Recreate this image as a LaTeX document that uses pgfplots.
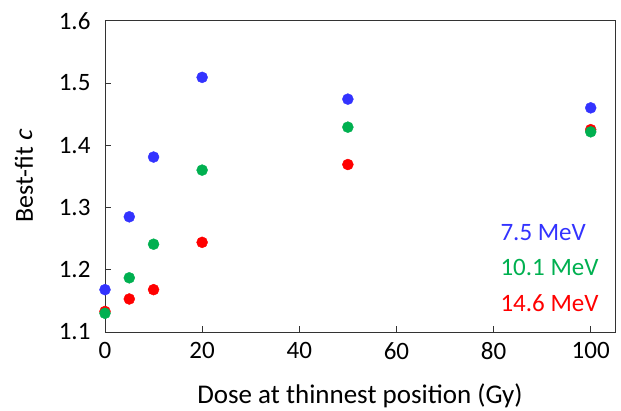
\documentclass[border=0pt]{standalone}
\usepackage{fontspec}
\setmainfont{Carlito}[AutoFakeSlant=0.2]
\usepackage{pgfplots}
\pgfplotsset{compat=1.18}
\definecolor{cblue}{RGB}{51,51,255}
\definecolor{cgreen}{RGB}{0,176,80}
\definecolor{cred}{RGB}{255,0,0}
\begin{document}
\fontsize{25bp}{30bp}\selectfont
\begin{tikzpicture}
\begin{axis}[
  name=ax,
  scale only axis,
  width=510bp, height=311.3bp,
  xmin=0, xmax=105, ymin=1.1, ymax=1.6,
  xtick={0,20,40,60,80,100},
  ytick={1.1,1.2,1.3,1.4,1.5,1.6},
  yticklabel style={/pgf/number format/fixed,/pgf/number format/precision=1,/pgf/number format/fixed zerofill},
  /pgf/number format/assume math mode=true,
  tick align=inside,
  xtick pos=bottom, ytick pos=left,
  major tick length=6bp,
  axis line style={line width=0.8bp, black!80},
  tick style={line width=0.8bp, black!80},
  xticklabel style={font=\fontsize{25bp}{30bp}\selectfont, yshift=-2bp},
  yticklabel style={font=\fontsize{25bp}{30bp}\selectfont, xshift=-6bp},
  xlabel={Dose at thinnest position (Gy)},
  ylabel={Best-fit \textit{c}},
  xlabel style={font=\fontsize{27bp}{30bp}\selectfont, at={(axis description cs:0.5,-0.2056)}, anchor=center},
  ylabel style={font=\fontsize{26bp}{30bp}\selectfont, at={(axis description cs:-0.159,0.5)}, anchor=center},
  clip=false,
]
\addplot[only marks, mark=*, mark size=5.5bp, draw=none, mark options={draw=none, fill=cred}, color=cred]
  coordinates {(0,1.133) (5,1.153) (10,1.168) (20,1.244) (50,1.369) (100,1.425)};
\addplot[only marks, mark=*, mark size=5.5bp, mark options={draw=none, fill=cgreen}, color=cgreen]
  coordinates {(0,1.130) (5,1.187) (10,1.241) (20,1.360) (50,1.429) (100,1.4215)};
\addplot[only marks, mark=*, mark size=5.5bp, mark options={draw=none, fill=cblue}, color=cblue]
  coordinates {(0,1.168) (5,1.285) (10,1.381) (20,1.509) (50,1.474) (100,1.460)};
\node[anchor=west, text=cblue, inner sep=0pt] at (axis cs:81.4,1.259) {7.5 MeV};
\node[anchor=west, text=cgreen, inner sep=0pt] at (axis cs:81.4,1.203) {10.1 MeV};
\node[anchor=west, text=cred, inner sep=0pt] at (axis cs:81.4,1.1465) {14.6 MeV};
\end{axis}
\pgfresetboundingbox
\useasboundingbox ([xshift=-105bp,yshift=-79bp]ax.south west) rectangle ([xshift=6bp,yshift=20.7bp]ax.north east);
\end{tikzpicture}
\end{document}
